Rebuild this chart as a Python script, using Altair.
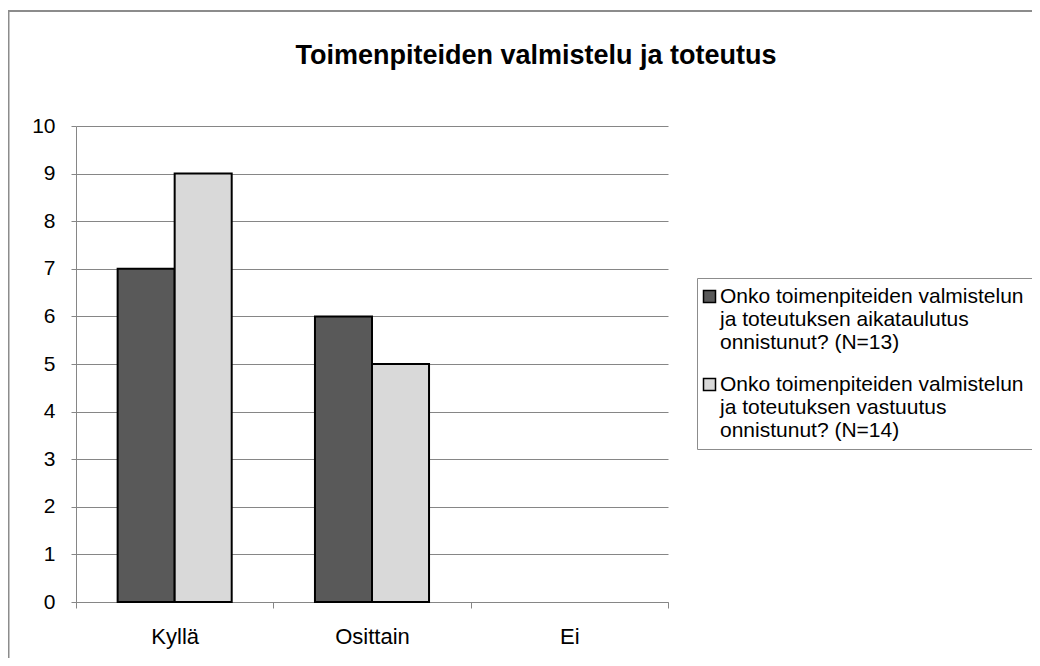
import altair as alt
import pandas as pd

categories = ["Kyllä", "Osittain", "Ei"]
series_names = [
    "Onko toimenpiteiden valmistelun|ja toteutuksen aikataulutus|onnistunut? (N=13)",
    "Onko toimenpiteiden valmistelun|ja toteutuksen vastuutus|onnistunut? (N=14)",
]
aikataulutus = [7, 6, 0]
vastuutus = [9, 5, 0]
colors = ["#595959", "#d9d9d9"]
y_ticks = list(range(0, 11))

rows = []
for i, c in enumerate(categories):
    rows.append({"category": c, "series": series_names[0], "value": aikataulutus[i]})
    rows.append({"category": c, "series": series_names[1], "value": vastuutus[i]})
df = pd.DataFrame(rows)

FONT = "Liberation Sans"
W, H = 592, 476

frame = alt.Chart(alt.Data(values=[{"a": 1}])).mark_rect(
    filled=False, fillOpacity=0, stroke="#8c8c8c", strokeWidth=2
).encode(
    x=alt.value(-67.5), x2=alt.value(2000), y=alt.value(-115), y2=alt.value(2000)
)

bars = alt.Chart(df).mark_bar(strokeWidth=2, opacity=1).encode(
    x=alt.X(
        "category:N", sort=categories,
        scale=alt.Scale(paddingInner=0, paddingOuter=0),
        axis=alt.Axis(
            title=None, labelAngle=0, tickBand="extent", ticks=True, tickSize=6,
            tickColor="#868686", domainColor="#868686", labelFont=FONT,
            labelFontSize=22, labelColor="black", labelPadding=18, grid=False,
        ),
    ),
    xOffset=alt.XOffset(
        "series:N", sort=series_names,
        scale=alt.Scale(paddingInner=0, paddingOuter=0.73),
    ),
    y=alt.Y(
        "value:Q",
        scale=alt.Scale(domain=[0, 10], nice=False),
        axis=alt.Axis(
            title=None, values=y_ticks, grid=True, gridColor="#868686",
            gridWidth=1, tickSize=5, tickColor="#868686", domainColor="#868686",
            labelFont=FONT, labelFontSize=21, labelColor="black", labelPadding=16,
        ),
    ),
    stroke=alt.condition("datum.value == 0", alt.value("transparent"), alt.value("black")),
    color=alt.Color(
        "series:N", sort=series_names,
        scale=alt.Scale(domain=series_names, range=colors),
        legend=alt.Legend(
            title=None, orient="none", legendX=621, legendY=152,
            labelExpr="split(datum.label, '|')",
            labelFont=FONT, labelFontSize=21, labelColor="black", labelLimit=0,
            symbolType="square", symbolSize=144, symbolStrokeColor="black",
            symbolStrokeWidth=1.5, symbolOpacity=1, rowPadding=20,
            symbolOffset=-6, labelOffset=0,
            strokeColor="#8c8c8c", fillColor="white", padding=8,
        ),
    ),
)

chart = alt.layer(frame, bars).properties(
    width=W, height=H,
    autosize=alt.AutoSizeParams(type="none"),
    padding={"left": 68, "top": 118, "right": 364, "bottom": 56},
    title=alt.TitleParams(
        "Toimenpiteiden valmistelu ja toteutus", font=FONT, fontSize=27,
        fontWeight="bold", color="black", anchor="middle", dx=164,
        baseline="alphabetic", offset=-81,
    ),
).configure_view(stroke=None)

chart.save("out.html", embed_options={"renderer": "svg", "actions": False})
